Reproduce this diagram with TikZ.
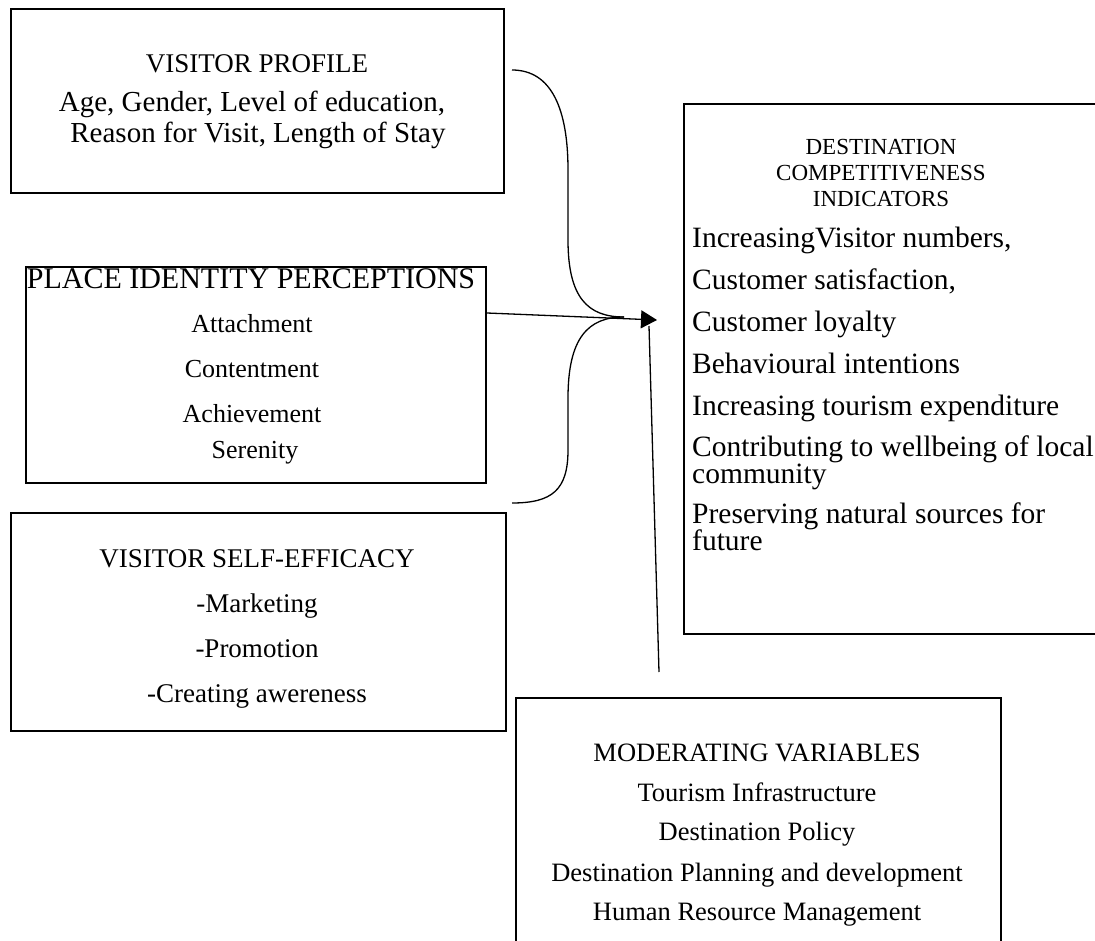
\documentclass[tikz,border=0pt]{standalone}
\usepackage{fontspec}
\setmainfont{Liberation Serif}
\usetikzlibrary{arrows.meta}
\begin{document}
\begin{tikzpicture}[x=1pt,y=-1pt,
  frame/.style={draw=black, line width=2pt, inner sep=0pt, anchor=north west},
  txt/.style={inner sep=0pt, text height=0.66em, text depth=0pt, anchor=center, yshift=-6pt},
  lefttxt/.style={inner sep=0pt, text height=0.66em, text depth=0pt, anchor=west, yshift=-6pt},
  conn/.style={draw=black, line width=1.3pt},
  fA/.style={font=\fontsize{27}{32}\selectfont},
  fP/.style={font=\fontsize{29}{34}\selectfont},
  fI/.style={font=\fontsize{30}{35}\selectfont},
  fS/.style={font=\fontsize{26}{31}\selectfont},
  fB/.style={font=\fontsize{26.5}{32}\selectfont},
  fH/.style={font=\fontsize{23}{28}\selectfont},
  fL/.style={font=\fontsize{29.5}{34}\selectfont}]
\clip (0,0) rectangle (1095,941);
\fill[white] (0,0) rectangle (1095,941);

% boxes
\node[frame, minimum width=493pt, minimum height=184pt] (profile) at (10,8) {};
\node[frame, minimum width=460pt, minimum height=216pt] (identity) at (25,266) {};
\node[frame, minimum width=495pt, minimum height=218pt] (efficacy) at (10,512) {};
\node[frame, minimum width=485pt, minimum height=300pt] (moderating) at (515,697) {};
\node[frame, minimum width=450pt, minimum height=530pt] (indicators) at (683,103) {};

% visitor profile
\node[txt,fA] (p0) at (257,63) {VISITOR PROFILE};
\node[txt,fP] (p1) at (252,102) {Age, Gender, Level of education,};
\node[txt,fP] (p2) at (258,133) {Reason for Visit, Length of Stay};

% place identity perceptions
\node[txt,fI] (i0) at (251,279) {PLACE IDENTITY PERCEPTIONS};
\node[txt,fS] (i1) at (252,323) {Attachment};
\node[txt,fS] (i2) at (252,368) {Contentment};
\node[txt,fS] (i3) at (252,413) {Achievement};
\node[txt,fS] (i4) at (255,449) {Serenity};

% visitor self-efficacy
\node[txt,fA] (e0) at (257,558) {VISITOR SELF-EFFICACY};
\node[txt,fA] (e1) at (257,603) {-Marketing};
\node[txt,fA] (e2) at (257,648) {-Promotion};
\node[txt,fA] (e3) at (257,693) {-Creating awereness};

% moderating variables
\node[txt,fB] (m0) at (757,752) {MODERATING VARIABLES};
\node[txt,fB] (m1) at (757,792) {Tourism Infrastructure};
\node[txt,fB] (m2) at (757,831) {Destination Policy};
\node[txt,fB] (m3) at (757,872) {Destination Planning and development};
\node[txt,fB] (m4) at (757,911) {Human Resource Management};

% destination competitiveness indicators
\node[txt,fH] (d0) at (881,145) {DESTINATION};
\node[txt,fH] (d1) at (881,171) {COMPETITIVENESS};
\node[txt,fH] (d2) at (881,197) {INDICATORS};
\node[lefttxt,fL] (d3) at (692,238) {IncreasingVisitor numbers,};
\node[lefttxt,fL] (d4) at (692,280) {Customer satisfaction,};
\node[lefttxt,fL] (d5) at (692,322) {Customer loyalty};
\node[lefttxt,fL] (d6) at (692,364) {Behavioural intentions};
\node[lefttxt,fL] (d7) at (692,406) {Increasing tourism expenditure};
\node[lefttxt,fL] (d8) at (692,447) {Contributing to wellbeing of local};
\node[lefttxt,fL] (d9) at (692,474) {community};
\node[lefttxt,fL] (d10) at (692,514) {Preserving natural sources for};
\node[lefttxt,fL] (d11) at (692,541) {future};

% connectors
\coordinate (hub) at (624,317);
\coordinate (braceTop) at (512,70);
\coordinate (braceBot) at (512,503);
\coordinate (fromIdentity) at (487,313);
\coordinate (tip) at (657,320);
\coordinate (fromModerating) at (659,672);
\coordinate (modTop) at (649,326);

\draw[conn] (braceTop) .. controls (552,70) and (568,110) .. (568,170)
  -- (568,240) .. controls (568,298) and (588,317) .. (hub);
\draw[conn] (hub) .. controls (588,317) and (568,338) .. (568,398)
  -- (568,450) .. controls (568,490) and (552,503) .. (braceBot);
\draw[conn, -{Triangle[length=16pt,width=18pt]}] (fromIdentity) -- (tip);
\draw[conn] (fromModerating) -- (modTop);
\end{tikzpicture}
\end{document}
